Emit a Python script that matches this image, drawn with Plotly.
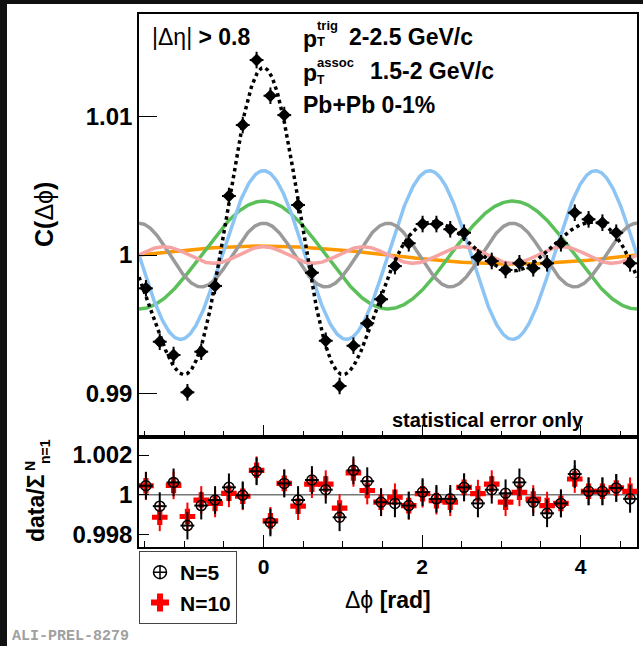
import numpy as np
import plotly.graph_objects as go

W, H = 643, 646
FONT = "Liberation Sans, Arial, Helvetica, sans-serif"

# ---------------- data ----------------
n_bins = 36
phi_lo, phi_hi = -np.pi / 2, 3 * np.pi / 2

# correlation function C(dphi), upper panel
C_data = [0.99759, 0.99373, 0.99277, 0.99007, 0.99301, 0.99776, 1.00427, 1.0094, 1.0141,
          1.01152, 1.01012, 1.00362, 0.99872, 0.9938, 0.99053, 0.99344, 0.99506, 0.9968,
          0.9992, 1.00085, 1.00224, 1.00224, 1.00186, 1.00161, 0.99983, 0.99957, 0.99892,
          0.9994, 0.99904, 0.9994, 1.00085, 1.00306, 1.00258, 1.00234, 1.00161, 0.9994]
C_err = [0.0006, 0.0006, 0.0006, 0.0006, 0.0006, 0.0006, 0.0006, 0.0006, 0.0006,
         0.0006, 0.0006, 0.0006, 0.0006, 0.0006, 0.0006, 0.0006, 0.0006, 0.0006,
         0.0006, 0.0006, 0.0006, 0.0006, 0.0006, 0.0006, 0.0006, 0.0006, 0.0006,
         0.0006, 0.0006, 0.0006, 0.0006, 0.0006, 0.0006, 0.0006, 0.0006, 0.0006]

# ratio data / Fourier sum, lower panel
ratio_N5 = [1.00045, 0.99942, 1.00062, 0.99844, 0.99945, 0.99973, 1.00037, 0.99997, 1.00118,
            0.9986, 1.00057, 0.99973, 1.00074, 1.00025, 0.99886, 1.00123, 1.00068, 0.99962,
            0.99956, 0.99945, 1.00013, 0.99979, 0.99979, 1.00037, 0.99956, 1.00025, 1.00007,
            1.00062, 0.99962, 0.99906, 0.99956, 1.00104, 1.00017, 1.00017, 1.00034, 0.99979]
ratio_N10 = [1.00045, 0.99886, 1.00047, 0.9989, 0.99973, 0.99956, 1.00007, 0.99992, 1.00123,
             0.99868, 1.00057, 0.99942, 1.00053, 1.00053, 0.99932, 1.0011, 1.00021, 0.99962,
             0.99987, 0.99945, 1.00005, 0.9997, 0.99962, 1.00037, 1.00005, 1.00053, 0.99962,
             1.00012, 0.99978, 0.99945, 0.99956, 1.00079, 1.00017, 1.00017, 1.00034, 1.00017]
ratio_err = [0.0007, 0.0007, 0.0007, 0.0007, 0.0007, 0.0007, 0.0007, 0.0007, 0.0007,
             0.0007, 0.0007, 0.0007, 0.0007, 0.0007, 0.0007, 0.0007, 0.0007, 0.0007,
             0.0007, 0.0007, 0.0007, 0.0007, 0.0007, 0.0007, 0.0007, 0.0007, 0.0007,
             0.0007, 0.0007, 0.0007, 0.0007, 0.0007, 0.0007, 0.0007, 0.0007, 0.0007]

# Fourier harmonics: 1 + a_n cos(n dphi), a_n = 2 v_n
harm_n = [1, 2, 3, 4, 5]
harm_amp = [0.00065, 0.0039, 0.0061, 0.0023, 0.0006]
harm_colors = ["#ff9900", "#5cc05a", "#8cc4f4", "#9a9a9a", "#f6a3a3"]

legend_labels = ["N=5", "N=10"]
x_tickvals = [0, 2, 4]
y_tickvals = [0.99, 1.0, 1.01]
y_ticktext = ["0.99", "1", "1.01"]
r_tickvals = [0.998, 1.0, 1.002]
r_ticktext = ["0.998", "1", "1.002"]

# ---------------- derived ----------------
edges = np.linspace(phi_lo, phi_hi, n_bins + 1)
centers = 0.5 * (edges[:-1] + edges[1:])
half_bin = 0.5 * (edges[1] - edges[0])
phi = np.linspace(phi_lo, phi_hi, 600)

fig = go.Figure()

total = np.ones_like(phi)
for n, a, col in zip(harm_n, harm_amp, harm_colors):
    comp = a * np.cos(n * phi)
    total = total + comp
    fig.add_trace(go.Scatter(x=phi, y=1 + comp, mode="lines", line=dict(color=col, width=3.5),
                             showlegend=False, hoverinfo="skip", xaxis="x", yaxis="y"))

fig.add_trace(go.Scatter(x=phi, y=total, mode="lines", line=dict(color="black", width=3.5, dash="dot"),
                         showlegend=False, xaxis="x", yaxis="y"))

fig.add_trace(go.Scatter(
    x=centers, y=C_data, mode="markers",
    marker=dict(symbol="diamond", size=10, color="black"),
    error_y=dict(type="data", array=C_err, color="black", thickness=2, width=0),
    error_x=dict(type="constant", value=half_bin, color="black", thickness=2, width=0),
    showlegend=False, xaxis="x", yaxis="y"))

# lower panel
fig.add_trace(go.Scatter(
    x=centers, y=ratio_N10, mode="markers",
    marker=dict(symbol="cross", size=13, color="#ff0000", line=dict(width=0)),
    error_y=dict(type="data", array=ratio_err, color="#ff0000", thickness=2, width=0),
    error_x=dict(type="constant", value=half_bin, color="#ff0000", thickness=2, width=0),
    showlegend=False, xaxis="x2", yaxis="y2"))
fig.add_trace(go.Scatter(
    x=centers, y=ratio_N5, mode="markers",
    marker=dict(symbol="circle-open", size=10, color="black", line=dict(width=1.5, color="black")),
    error_y=dict(type="data", array=ratio_err, color="black", thickness=2, width=0),
    error_x=dict(type="constant", value=half_bin, color="black", thickness=2, width=0),
    showlegend=False, xaxis="x2", yaxis="y2"))

# legend entries
fig.add_trace(go.Scatter(x=[None], y=[None], mode="markers", name=legend_labels[0],
                         marker=dict(symbol="circle-cross-open", size=13, color="black",
                                     line=dict(width=1.5, color="black")),
                         xaxis="x2", yaxis="y2"))
fig.add_trace(go.Scatter(x=[None], y=[None], mode="markers", name=legend_labels[1],
                         marker=dict(symbol="cross", size=15, color="#ff0000", line=dict(width=0)),
                         xaxis="x2", yaxis="y2"))

xl, xr = 139 / W, 637 / W
top_dom = [1 - 437 / H, 1 - 14 / H]
bot_dom = [1 - 547 / H, 1 - 437 / H]

common_x = dict(range=[phi_lo, phi_hi], domain=[xl, xr], showgrid=False, zeroline=False,
                showline=True, mirror=True, linecolor="black", linewidth=1.5,
                ticks="inside", tickvals=x_tickvals, ticklen=12, tickwidth=1.2, tickcolor="black",
                minor=dict(dtick=0.5, tick0=0, ticks="inside", ticklen=6, tickwidth=1.2, tickcolor="black"))

fig.update_layout(
    width=W, height=H, margin=dict(l=0, r=0, t=0, b=0),
    paper_bgcolor="white", plot_bgcolor="white",
    font=dict(family=FONT, color="black"),
    xaxis=dict(**common_x, anchor="y", showticklabels=False),
    yaxis=dict(domain=top_dom, range=[0.98684, 1.01743], anchor="x",
               showgrid=False, zeroline=False, showline=True, mirror=True,
               linecolor="black", linewidth=1.5,
               ticks="inside", tickvals=y_tickvals, ticktext=y_ticktext, ticklen=18,
               tickwidth=1.2, tickcolor="black",
               tickfont=dict(size=24, family=FONT, weight="bold")),
    xaxis2=dict(**common_x, anchor="y2", matches="x", showticklabels=True,
                ticktext=["0", "2", "4"],
                tickfont=dict(size=21, family=FONT, weight="bold")),
    yaxis2=dict(domain=bot_dom, range=[0.99736, 1.00291], anchor="x2",
                showgrid=False, zeroline=False, showline=True, mirror=True,
                linecolor="black", linewidth=1.5,
                ticks="inside", tickvals=r_tickvals, ticktext=r_ticktext, ticklen=10,
                tickwidth=1.2, tickcolor="black",
                tickfont=dict(size=24, family=FONT, weight="bold")),
    legend=dict(x=xl, y=1 - 551 / H, xanchor="left", yanchor="top",
                bgcolor="white", bordercolor="#444", borderwidth=1,
                font=dict(size=21, family=FONT, weight="bold", color="black"),
                traceorder="normal", itemsizing="trace", itemwidth=30),
)

# reference line at 1 in ratio panel
fig.add_shape(type="line", xref="x2", yref="y2", x0=phi_lo, x1=phi_hi, y0=1, y1=1,
              line=dict(color="#777777", width=1.5), layer="below")

# black strips at left and top
fig.add_shape(type="rect", xref="paper", yref="paper", x0=0, x1=7 / W, y0=0, y1=1,
              fillcolor="#111111", line=dict(width=0))
fig.add_shape(type="rect", xref="paper", yref="paper", x0=0, x1=1, y0=1 - 4 / H, y1=1,
              fillcolor="#111111", line=dict(width=0))


def ann(text, px, py, size, bold=True, xanchor="left", angle=0, color="black", family=FONT):
    fig.add_annotation(text=text, x=px / W, y=1 - py / H, xref="paper", yref="paper",
                       showarrow=False, xanchor=xanchor, yanchor="middle", textangle=angle,
                       font=dict(size=size, family=family, color=color,
                                 weight="bold" if bold else "normal"))


ann("|Δη| <b>&gt; 0.8</b>", 150, 37, 23, bold=False)
# p_T^trig line
ann("p", 301, 39, 23)
ann("trig", 315, 25, 13)
ann("T", 315, 42, 13)
ann("2-2.5 GeV/c", 347, 37, 23)
# p_T^assoc line
ann("p", 301, 73, 23)
ann("assoc", 315, 62, 13)
ann("T", 315, 80, 12)
ann("1.5-2 GeV/c", 368, 71, 23)
ann("Pb+Pb 0-1%", 301, 105, 23)
ann("statistical error only", 488, 420, 20, xanchor="center")

ann("<b>C(</b>Δϕ<b>)</b>", 44, 215, 25, bold=False, xanchor="center", angle=-90)
ann("data/Σ", 36, 508, 23, xanchor="center", angle=-90)
ann("N", 30, 466, 14, xanchor="center", angle=-90)
ann("n=1", 45, 452, 14, xanchor="center", angle=-90)
ann("Δϕ <b>[rad]</b>", 388, 600, 23, bold=False, xanchor="center")
ann("ALI-PREL-8279", 10, 636, 15, color="#a0a0a0", family="Liberation Mono, Courier New, monospace")

fig.write_html("out.html")
